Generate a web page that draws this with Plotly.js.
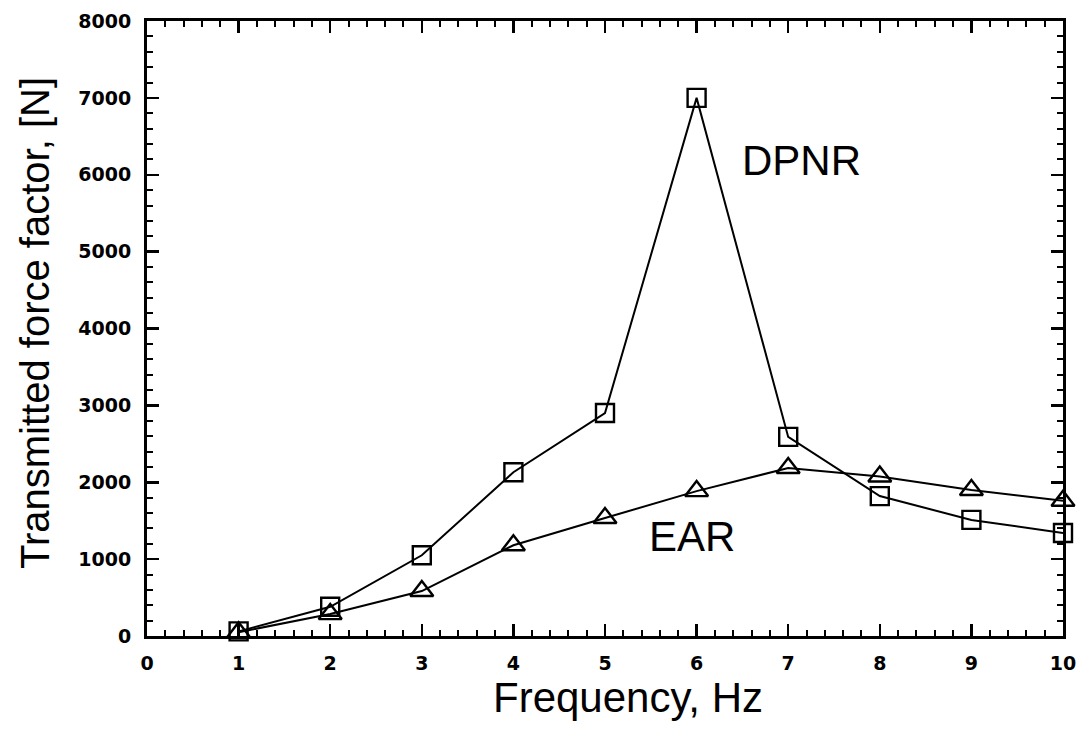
<!DOCTYPE html>
<html><head><meta charset="utf-8">
<script src="https://cdn.plot.ly/plotly-3.0.1.min.js"></script>
<style>body{margin:0;background:#fff}#chart{width:1081px;height:731px}</style>
</head><body><div id="chart"></div>
<script>
const frequency = [1,2,3,4,5,6,7,8,9,10];
const dpnr = [60,380,1050,2130,2900,7000,2590,1820,1510,1340];
const ear = [50,285,585,1180,1535,1885,2185,2075,1900,1760];
const xTicks = [0,1,2,3,4,5,6,7,8,9,10];
const yTicks = [0,1000,2000,3000,4000,5000,6000,7000,8000];
const seriesLabels = ['DPNR','EAR'];
const xTitle = 'Frequency, Hz';
const yTitle = 'Transmitted force factor, [N]';

const lineStyle = {color:'#000', width:2};
const traces = [
  {x:frequency, y:dpnr, mode:'lines+markers', name:seriesLabels[0], line:lineStyle,
   marker:{symbol:'square-open', size:18, color:'#000', line:{width:2.4}}, cliponaxis:false},
  {x:frequency, y:ear, mode:'lines+markers', name:seriesLabels[1], line:lineStyle,
   marker:{symbol:'triangle-up-open', size:20, color:'#000', line:{width:2.4}}, cliponaxis:false}
];
const textFont = {family:'Liberation Sans, Arial, sans-serif', size:42, color:'#000'};
const yTitleFont = {family:'Liberation Sans, Arial, sans-serif', size:40, color:'#000'};
const tickFont = {family:'DejaVu Sans', size:19, color:'#000', weight:'bold'};
const layout = {
  width:1081, height:731,
  margin:{l:147, r:18, t:21, b:95},
  showlegend:false,
  paper_bgcolor:'#fff', plot_bgcolor:'#fff',
  xaxis:{range:[0,10], tickvals:xTicks, ticks:'inside', ticklen:12, tickwidth:2.5, tickcolor:'#000',
    showline:true, linewidth:3, linecolor:'#000', mirror:'allticks', showgrid:false, zeroline:false,
    minor:{dtick:0.2, tick0:0, ticks:'inside', ticklen:6, tickwidth:2, tickcolor:'#000', showgrid:false},
    tickfont:tickFont, ticklabelstandoff:8},
  yaxis:{range:[0,8000], tickvals:yTicks, ticks:'inside', ticklen:12, tickwidth:2.5, tickcolor:'#000',
    showline:true, linewidth:3, linecolor:'#000', mirror:'allticks', showgrid:false, zeroline:false,
    minor:{dtick:200, tick0:0, ticks:'inside', ticklen:6, tickwidth:2, tickcolor:'#000', showgrid:false},
    tickfont:tickFont, ticklabelstandoff:9},
  annotations:[
    {x:628, y:697, text:xTitle, showarrow:false, xanchor:'center', yanchor:'middle', font:textFont},
    {x:35, y:323, text:yTitle, showarrow:false, textangle:-90, xanchor:'center', yanchor:'middle', font:yTitleFont},
    {x:6.47, y:6190, xref:'x', yref:'y', text:seriesLabels[0], showarrow:false, xanchor:'left', yanchor:'middle', font:textFont},
    {x:5.95, y:1300, xref:'x', yref:'y', text:seriesLabels[1], showarrow:false, xanchor:'center', yanchor:'middle', font:textFont}
  ]
};
// Convert pixel-positioned title annotations to paper coordinates
const pw = layout.width - layout.margin.l - layout.margin.r;
const ph = layout.height - layout.margin.t - layout.margin.b;
[0,1].forEach(i => {
  const a = layout.annotations[i];
  a.xref = 'paper'; a.yref = 'paper';
  a.x = (a.x - layout.margin.l) / pw;
  a.y = 1 - (a.y - layout.margin.t) / ph;
});
Plotly.newPlot('chart', traces, layout, {displayModeBar:false, staticPlot:true});
</script></body></html>
